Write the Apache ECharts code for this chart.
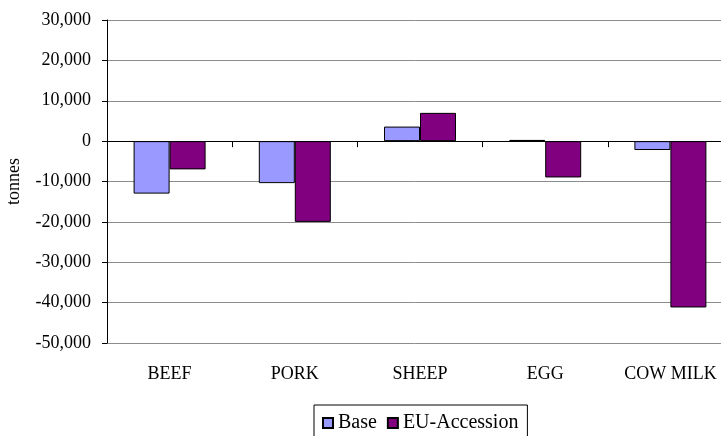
<!DOCTYPE html>
<html>
<head>
<meta charset="utf-8">
<script src="https://cdn.jsdelivr.net/npm/echarts@6/dist/echarts.min.js"></script>
<style>
  html, body { margin: 0; padding: 0; background: #ffffff; }
  #chart { width: 721px; height: 436px; }
</style>
</head>
<body>
<div id="chart"></div>
<script>
// Change in production by product, tonnes
const categories = ['BEEF', 'PORK', 'SHEEP', 'EGG', 'COW MILK'];
const baseValues = [-13000, -10400, 3600, 300, -2200];
const euAccessionValues = [-7000, -20000, 7000, -9000, -41200];
const seriesNames = ['Base', 'EU-Accession'];
const yAxisName = 'tonnes';

const FONT = '"Liberation Serif", "Times New Roman", serif';

const chart = echarts.init(document.getElementById('chart'), null, { renderer: 'canvas' });

chart.setOption({
  animation: false,
  backgroundColor: '#ffffff',
  textStyle: { fontFamily: FONT, color: '#000000' },
  // plot area runs past the right edge of the canvas
  grid: {
    left: 107, top: 20, width: 626, height: 323,
    containLabel: false,
    outerBoundsMode: 'none'
  },
  legend: {
    data: seriesNames,
    left: 314,
    top: 405,
    orient: 'horizontal',
    icon: 'rect',
    itemWidth: 10,
    itemHeight: 10,
    itemGap: 10,
    padding: [8, 9, 12, 8],
    borderColor: '#000000',
    borderWidth: 1,
    textStyle: { fontFamily: FONT, fontSize: 20, color: '#000000' }
  },
  xAxis: [
    {
      // zero line with category ticks
      type: 'category',
      data: categories,
      boundaryGap: true,
      axisLine: { show: true, onZero: true, lineStyle: { color: '#000000', width: 1 } },
      axisTick: { show: true, length: 6, inside: false, lineStyle: { color: '#000000' } },
      axisLabel: { show: false },
      splitLine: { show: false }
    },
    {
      // category labels along the bottom
      type: 'category',
      data: categories,
      position: 'bottom',
      boundaryGap: true,
      axisLine: { show: false, onZero: false },
      axisTick: { show: false },
      axisLabel: { show: true, fontFamily: FONT, fontSize: 18, color: '#000000', margin: 22 },
      splitLine: { show: false }
    }
  ],
  yAxis: {
    type: 'value',
    min: -50000,
    max: 30000,
    interval: 10000,
    name: yAxisName,
    nameLocation: 'middle',
    nameRotate: 90,
    nameGap: 84,
    nameTextStyle: { fontFamily: FONT, fontSize: 18, color: '#000000' },
    axisLine: { show: true, lineStyle: { color: '#000000', width: 1 } },
    axisTick: { show: true, length: 5, lineStyle: { color: '#000000' } },
    axisLabel: {
      fontFamily: FONT,
      fontSize: 18,
      color: '#000000',
      margin: 16,
      formatter: v => v.toLocaleString('en-US')
    },
    splitLine: { show: true, lineStyle: { color: '#8c8c8c', width: 1 } }
  },
  series: [
    {
      name: seriesNames[0],
      type: 'bar',
      xAxisIndex: 0,
      data: baseValues,
      barWidth: 36,
      barGap: '0%',
      itemStyle: { color: '#9999ff', borderColor: '#000000', borderWidth: 1 }
    },
    {
      name: seriesNames[1],
      type: 'bar',
      xAxisIndex: 0,
      data: euAccessionValues,
      barWidth: 36,
      barGap: '0%',
      itemStyle: { color: '#800080', borderColor: '#000000', borderWidth: 1 }
    }
  ]
});
</script>
</body>
</html>
